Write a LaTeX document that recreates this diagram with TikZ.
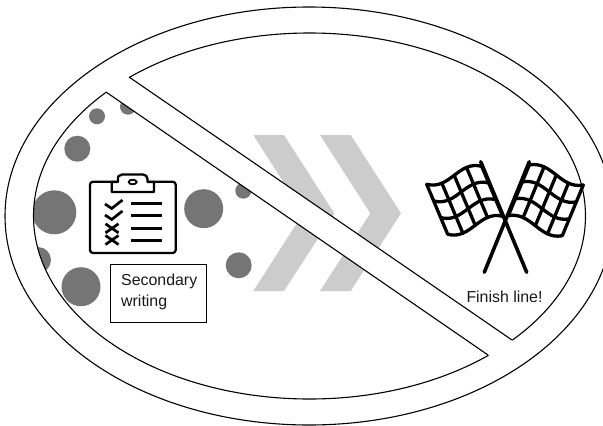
\documentclass[tikz,border=0pt]{standalone}
\usepackage{fontspec}
\setmainfont{Liberation Sans}
\definecolor{dotgray}{HTML}{757575}
\definecolor{chevgray}{HTML}{CCCCCC}
\tikzset{
  ring/.style={draw=black,line width=1.1pt},
  dot/.style={fill=dotgray},
  chev/.style={fill=chevgray},
  flagline/.style={draw=black,line width=3.3pt,line cap=round,line join=round},
  pole/.style={draw=black,line width=3.6pt,line cap=round},
  board/.style={draw=black,line width=2.3pt,line join=round,fill=white},
  listmark/.style={draw=black,line width=2.7pt},
  lbl/.style={font=\fontsize{15.9pt}{21pt}\selectfont,text=black!90,inner sep=0pt},
}
% wavy checkered flag in unit-square coordinates; #1 = wave amplitude
\newcommand{\flaggrid}[1]{%
  \foreach \vv in {0,0.3333,0.6667,1}{
    \draw[flagline] (0,\vv) .. controls (0.3333,\vv+#1) and (0.6667,\vv-#1) .. (1,\vv);
  }
  \foreach \uu in {0,0.25,0.5,0.75,1}{
    \pgfmathsetmacro{\ww}{3*\uu*(1-\uu)*(1-2*\uu)*#1}
    \draw[flagline] (\uu,\ww) -- (\uu,1+\ww);
  }
}
\begin{document}
\begin{tikzpicture}[x=1pt,y=-1pt]
\path[use as bounding box] (0,0) rectangle (603,426);
\clip (0,0) rectangle (603,426);
\fill[white] (0,0) rectangle (603,426);
\coordinate (cen) at (309.5,216);
\coordinate (ua) at (129,77);
\coordinate (ub) at (512,340);
\coordinate (la) at (106,92);
\coordinate (lb) at (488,355);
% outer ring
\draw[ring] (309,216) ellipse [x radius=304pt,y radius=209pt];
% lower-left part of the inner ellipse
\begin{scope}
  \clip (-85,-39.5) -- (679,486.5) -- (-85,486.5) -- cycle;
  \begin{scope}
    \clip (cen) ellipse [x radius=276pt,y radius=183pt];
    \fill[chev] (253.3,135) -- (284,135) -- (334.3,213.3) -- (284,291) -- (253.3,291) -- (303.3,213.3) -- cycle;
    \fill[chev] (320,135) -- (350.7,135) -- (401,213.3) -- (350.7,291) -- (320,291) -- (370.3,213.3) -- cycle;
    \fill[dot] (97,116.3) circle [radius=8pt];
    \fill[dot] (128,106.7) circle [radius=8pt];
    \fill[dot] (77.3,148.7) circle [radius=13pt];
    \fill[dot] (54.3,212.3) circle [radius=22pt];
    \fill[dot] (203.7,208.7) circle [radius=19.5pt];
    \fill[dot] (243.3,190.7) circle [radius=8pt];
    \fill[dot] (238.7,265.3) circle [radius=13pt];
    \fill[dot] (38,260) circle [radius=13pt];
    \fill[dot] (81,286.7) circle [radius=19.5pt];
  \end{scope}
  \draw[ring] (cen) ellipse [x radius=276pt,y radius=183pt];
\end{scope}
\draw[ring] (la) -- (lb);
% upper-right part of the inner ellipse
\begin{scope}
  \clip (-62.5,-54.5) -- (703.5,471.5) -- (703.5,-54.5) -- cycle;
  \begin{scope}
    \clip (cen) ellipse [x radius=276pt,y radius=183pt];
    \fill[chev] (253.3,135) -- (284,135) -- (334.3,213.3) -- (284,291) -- (253.3,291) -- (303.3,213.3) -- cycle;
    \fill[chev] (320,135) -- (350.7,135) -- (401,213.3) -- (350.7,291) -- (320,291) -- (370.3,213.3) -- cycle;
  \end{scope}
  \draw[ring] (cen) ellipse [x radius=276pt,y radius=183pt];
\end{scope}
\draw[ring] (ua) -- (ub);
% clipboard
\draw[board,rounded corners=3pt] (90,181.7) rectangle (175.7,253);
\draw[board] (111.7,192) -- (111.7,182) -- (118,182) -- (118,177) [rounded corners=2pt] -- (120,174.5) -- (145,174.5) -- (147.5,177) [sharp corners] -- (147.5,182) -- (154,182) -- (154,192) -- cycle;
\draw[black,line width=1.8pt] (132.7,182) ellipse [x radius=4pt,y radius=2.3pt];
\foreach \yy in {203.3,215.3,228.3,240.3}{
  \draw[listmark] (131,\yy) -- (162,\yy);
}
\foreach \yy in {204,215}{
  \draw[listmark] (105,\yy) -- (111.7,\yy+4.5) -- (122.5,\yy-4);
}
\foreach \yy in {228.3,240}{
  \draw[listmark] (105.5,\yy-4.5) -- (118.5,\yy+4.5);
  \draw[listmark] (105.5,\yy+4.5) -- (118.5,\yy-4.5);
}
% text boxes
\node[draw=black,line width=0.7pt,fill=white,minimum width=96pt,minimum height=58.5pt,inner sep=0pt] (box) at (158,293.2) {};
\node[lbl,anchor=base west] (sec1) at (121,285) {Secondary};
\node[lbl,anchor=base west] (sec2) at (121,306) {writing};
\node[lbl,anchor=base] (finish) at (504.5,302.7) {Finish line!};
% flags
\draw[pole] (480.7,161.7) -- (526.7,272.3);
\draw[pole] (529.3,161.7) -- (484.3,272.3);
\begin{scope}[shift={(426.7,184.3)},x={(55pt,18pt)},y={(21pt,-50pt)}]
  \flaggrid{0.24}
\end{scope}
\begin{scope}[shift={(529.3,165)},x={(54pt,-20pt)},y={(-21pt,-50.7pt)}]
  \flaggrid{-0.22}
\end{scope}
\end{tikzpicture}
\end{document}
